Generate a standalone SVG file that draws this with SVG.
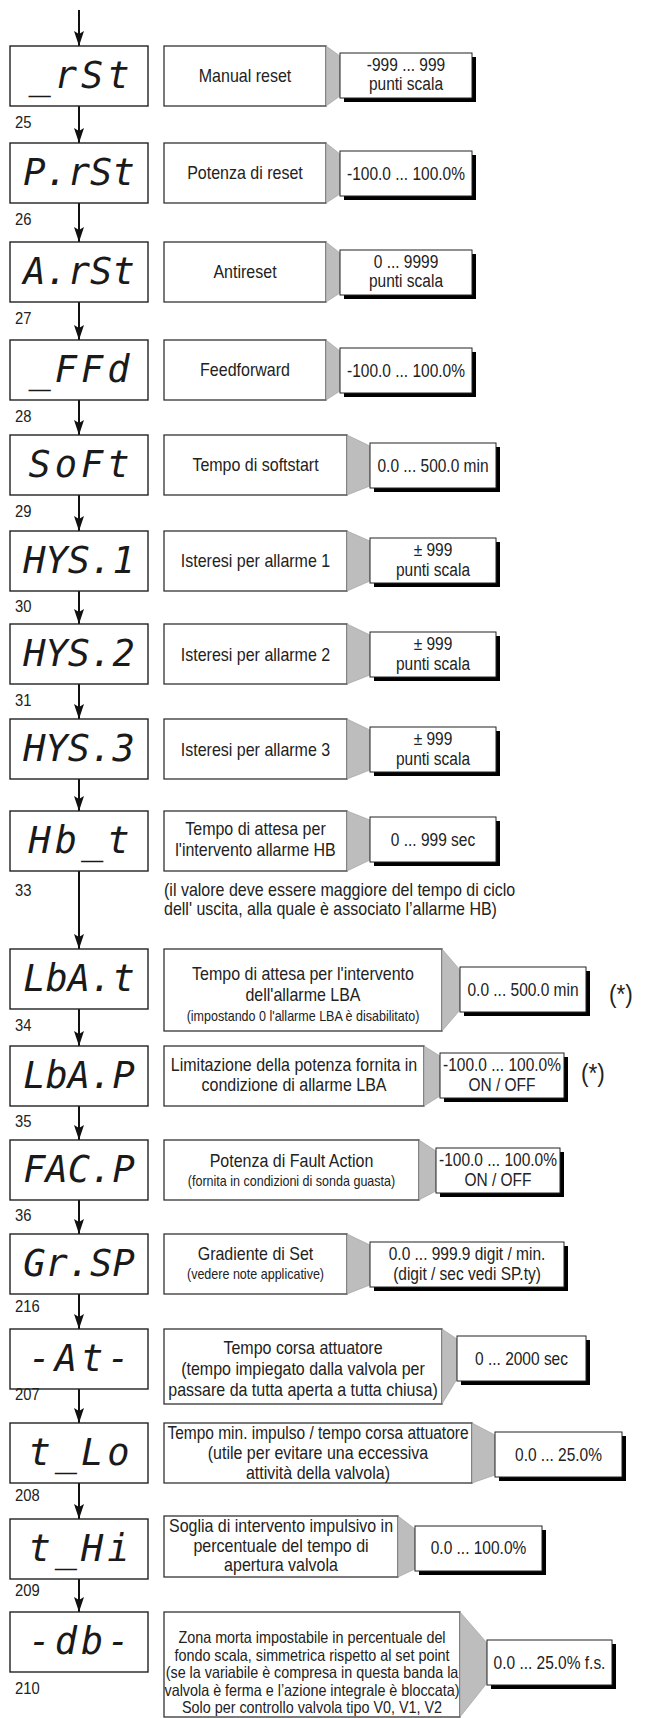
<svg xmlns="http://www.w3.org/2000/svg" width="646" height="1718" viewBox="0 0 646 1718">
<style>
.bg{fill:#fff}
.disp{fill:#fff;stroke:#222;stroke-width:1.4}
.desc{fill:#fff;stroke:#333;stroke-width:1.3}
.val{fill:#fff;stroke:#222;stroke-width:1}
.sh{fill:#000}
.wedge{fill:#bdbdbd;stroke:#9a9a9a;stroke-width:0.6}
.seg{font-family:"DejaVu Sans Mono",monospace;font-size:37px;font-style:oblique;letter-spacing:4px;text-anchor:middle;fill:#1a1a1a}
.seg5{letter-spacing:0px}
.t{font-family:"Liberation Sans",Arial,sans-serif;font-size:18.4px;fill:#222}
.v{font-size:17.8px}
.c{text-anchor:middle}
.s{font-size:14.4px}
.d{font-size:16.5px}
.lbl{font-family:"Liberation Sans",Arial,sans-serif;font-size:17px;fill:#222}
.ast{font-family:"Liberation Sans",Arial,sans-serif;font-size:26px;fill:#222}
.conn line{stroke:#111;stroke-width:2;marker-end:url(#ah)}
</style>
<defs>
<marker id="ah" markerUnits="userSpaceOnUse" viewBox="0 -6 16 12" markerWidth="16" markerHeight="12" refX="15" refY="0" orient="auto">
<path d="M0,-5 L15,0 L0,5 L3,0 z" fill="#111"/>
</marker>
</defs>
<rect class="bg" x="0" y="0" width="646" height="1718"/>

<g id="connectors" class="conn">
<line x1="79" y1="10" x2="79" y2="46"/>
<line x1="79" y1="106" x2="79" y2="143"/>
<line x1="79" y1="203" x2="79" y2="242"/>
<line x1="79" y1="302" x2="79" y2="340"/>
<line x1="79" y1="400" x2="79" y2="435"/>
<line x1="79" y1="495" x2="79" y2="531"/>
<line x1="79" y1="591" x2="79" y2="624"/>
<line x1="79" y1="684" x2="79" y2="719"/>
<line x1="79" y1="779" x2="79" y2="811"/>
<line x1="79" y1="871" x2="79" y2="949"/>
<line x1="79" y1="1009" x2="79" y2="1046"/>
<line x1="79" y1="1106" x2="79" y2="1140"/>
<line x1="79" y1="1200" x2="79" y2="1234"/>
<line x1="79" y1="1294" x2="79" y2="1329"/>
<line x1="79" y1="1389" x2="79" y2="1423"/>
<line x1="79" y1="1483" x2="79" y2="1519"/>
<line x1="79" y1="1579" x2="79" y2="1612"/>
</g>

<g id="n-rst">
<rect class="disp" x="10" y="46" width="138" height="60"/>
<text class="seg" x="81" y="88">_rSt</text>
<text class="lbl" transform="translate(15,0) scale(0.87,1)" x="0" y="128">25</text>
<rect class="desc" x="164" y="46" width="162" height="60"/>
<text class="t c" transform="translate(245,0) scale(0.87,1)" x="0" y="82">Manual reset</text>
<polygon class="wedge" points="326,46 340,56 340,96 326,106"/>
<rect class="sh" x="344" y="57" width="132" height="45"/>
<rect class="val" x="340" y="53" width="132" height="45"/>
<text class="t v c" transform="translate(406,0) scale(0.87,1)" x="0" y="71">-999 ... 999</text>
<text class="t v c" transform="translate(406,0) scale(0.87,1)" x="0" y="90">punti scala</text>
</g>

<g id="n-prst">
<rect class="disp" x="10" y="143" width="138" height="60"/>
<text class="seg seg5" x="79" y="185">P.rSt</text>
<text class="lbl" transform="translate(15,0) scale(0.87,1)" x="0" y="225">26</text>
<rect class="desc" x="164" y="143" width="162" height="60"/>
<text class="t c" transform="translate(245,0) scale(0.87,1)" x="0" y="179">Potenza di reset</text>
<polygon class="wedge" points="326,143 340,154 340,194 326,203"/>
<rect class="sh" x="344" y="155" width="132" height="45"/>
<rect class="val" x="340" y="151" width="132" height="45"/>
<text class="t v c" transform="translate(406,0) scale(0.87,1)" x="0" y="180">-100.0 ... 100.0%</text>
</g>

<g id="n-arst">
<rect class="disp" x="10" y="242" width="138" height="60"/>
<text class="seg seg5" x="79" y="284">A.rSt</text>
<text class="lbl" transform="translate(15,0) scale(0.87,1)" x="0" y="324">27</text>
<rect class="desc" x="164" y="242" width="162" height="60"/>
<text class="t c" transform="translate(245,0) scale(0.87,1)" x="0" y="278">Antireset</text>
<polygon class="wedge" points="326,242 340,253 340,293 326,302"/>
<rect class="sh" x="344" y="254" width="132" height="45"/>
<rect class="val" x="340" y="250" width="132" height="45"/>
<text class="t v c" transform="translate(406,0) scale(0.87,1)" x="0" y="268">0 ... 9999</text>
<text class="t v c" transform="translate(406,0) scale(0.87,1)" x="0" y="287">punti scala</text>
</g>

<g id="n-ffd">
<rect class="disp" x="10" y="340" width="138" height="60"/>
<text class="seg" x="81" y="382">_FFd</text>
<text class="lbl" transform="translate(15,0) scale(0.87,1)" x="0" y="422">28</text>
<rect class="desc" x="164" y="340" width="162" height="60"/>
<text class="t c" transform="translate(245,0) scale(0.87,1)" x="0" y="376">Feedforward</text>
<polygon class="wedge" points="326,340 340,351 340,391 326,400"/>
<rect class="sh" x="344" y="352" width="132" height="45"/>
<rect class="val" x="340" y="348" width="132" height="45"/>
<text class="t v c" transform="translate(406,0) scale(0.87,1)" x="0" y="377">-100.0 ... 100.0%</text>
</g>

<g id="n-soft">
<rect class="disp" x="10" y="435" width="138" height="60"/>
<text class="seg" x="81" y="477">SoFt</text>
<text class="lbl" transform="translate(15,0) scale(0.87,1)" x="0" y="517">29</text>
<rect class="desc" x="164" y="435" width="183" height="60"/>
<text class="t c" transform="translate(255.5,0) scale(0.87,1)" x="0" y="471">Tempo di softstart</text>
<polygon class="wedge" points="347,435 370,446 370,486 347,495"/>
<rect class="sh" x="374" y="447" width="126" height="45"/>
<rect class="val" x="370" y="443" width="126" height="45"/>
<text class="t v c" transform="translate(433,0) scale(0.87,1)" x="0" y="472">0.0 ... 500.0 min</text>
</g>

<g id="n-hys1">
<rect class="disp" x="10" y="531" width="138" height="60"/>
<text class="seg seg5" x="79" y="573">HYS.1</text>
<text class="lbl" transform="translate(15,0) scale(0.87,1)" x="0" y="612">30</text>
<rect class="desc" x="164" y="531" width="183" height="60"/>
<text class="t c" transform="translate(255.5,0) scale(0.87,1)" x="0" y="567">Isteresi per allarme 1</text>
<polygon class="wedge" points="347,531 370,541 370,581 347,591"/>
<rect class="sh" x="374" y="542" width="126" height="45"/>
<rect class="val" x="370" y="538" width="126" height="45"/>
<text class="t v c" transform="translate(433,0) scale(0.87,1)" x="0" y="556">± 999</text>
<text class="t v c" transform="translate(433,0) scale(0.87,1)" x="0" y="576">punti scala</text>
</g>

<g id="n-hys2">
<rect class="disp" x="10" y="624" width="138" height="60"/>
<text class="seg seg5" x="79" y="666">HYS.2</text>
<text class="lbl" transform="translate(15,0) scale(0.87,1)" x="0" y="706">31</text>
<rect class="desc" x="164" y="624" width="183" height="60"/>
<text class="t c" transform="translate(255.5,0) scale(0.87,1)" x="0" y="661">Isteresi per allarme 2</text>
<polygon class="wedge" points="347,624 370,635 370,675 347,684"/>
<rect class="sh" x="374" y="636" width="126" height="45"/>
<rect class="val" x="370" y="632" width="126" height="45"/>
<text class="t v c" transform="translate(433,0) scale(0.87,1)" x="0" y="650">± 999</text>
<text class="t v c" transform="translate(433,0) scale(0.87,1)" x="0" y="670">punti scala</text>
</g>

<g id="n-hys3">
<rect class="disp" x="10" y="719" width="138" height="60"/>
<text class="seg seg5" x="79" y="761">HYS.3</text>
<rect class="desc" x="164" y="719" width="183" height="60"/>
<text class="t c" transform="translate(255.5,0) scale(0.87,1)" x="0" y="756">Isteresi per allarme 3</text>
<polygon class="wedge" points="347,719 370,730 370,770 347,779"/>
<rect class="sh" x="374" y="731" width="126" height="45"/>
<rect class="val" x="370" y="727" width="126" height="45"/>
<text class="t v c" transform="translate(433,0) scale(0.87,1)" x="0" y="745">± 999</text>
<text class="t v c" transform="translate(433,0) scale(0.87,1)" x="0" y="765">punti scala</text>
</g>

<g id="n-hbt">
<rect class="disp" x="10" y="811" width="138" height="60"/>
<text class="seg" x="81" y="853">Hb_t</text>
<text class="lbl" transform="translate(15,0) scale(0.87,1)" x="0" y="896">33</text>
<rect class="desc" x="164" y="811" width="183" height="60"/>
<text class="t c" transform="translate(255.5,0) scale(0.87,1)" x="0" y="835">Tempo di attesa per</text>
<text class="t c" transform="translate(255.5,0) scale(0.87,1)" x="0" y="856">l'intervento allarme HB</text>
<polygon class="wedge" points="347,811 370,820 370,860 347,871"/>
<rect class="sh" x="374" y="821" width="126" height="45"/>
<rect class="val" x="370" y="817" width="126" height="45"/>
<text class="t v c" transform="translate(433,0) scale(0.87,1)" x="0" y="846">0 ... 999 sec</text>
<text class="t" transform="translate(164,0) scale(0.87,1)" x="0" y="896">(il valore deve essere maggiore del tempo di ciclo</text>
<text class="t" transform="translate(164,0) scale(0.87,1)" x="0" y="915">dell' uscita, alla quale è associato l’allarme HB)</text>
</g>

<g id="n-lbat">
<rect class="disp" x="10" y="949" width="138" height="60"/>
<text class="seg seg5" x="79" y="991">LbA.t</text>
<text class="lbl" transform="translate(15,0) scale(0.87,1)" x="0" y="1031">34</text>
<rect class="desc" x="164" y="949" width="278" height="82"/>
<text class="t c" transform="translate(303,0) scale(0.87,1)" x="0" y="980">Tempo di attesa per l'intervento</text>
<text class="t c" transform="translate(303,0) scale(0.87,1)" x="0" y="1001">dell'allarme LBA</text>
<text class="t c s" transform="translate(303,0) scale(0.87,1)" x="0" y="1021">(impostando 0 l'allarme LBA è disabilitato)</text>
<polygon class="wedge" points="442,949 460,970 460,1010 442,1031"/>
<rect class="sh" x="464" y="971" width="126" height="45"/>
<rect class="val" x="460" y="967" width="126" height="45"/>
<text class="t v c" transform="translate(523,0) scale(0.87,1)" x="0" y="996">0.0 ... 500.0 min</text>
<text class="ast" transform="translate(609,0) scale(0.87,1)" x="0" y="1003">(*)</text>
</g>

<g id="n-lbap">
<rect class="disp" x="10" y="1046" width="138" height="60"/>
<text class="seg seg5" x="79" y="1088">LbA.P</text>
<text class="lbl" transform="translate(15,0) scale(0.87,1)" x="0" y="1127">35</text>
<rect class="desc" x="164" y="1046" width="260" height="60"/>
<text class="t c" transform="translate(294,0) scale(0.87,1)" x="0" y="1071">Limitazione della potenza fornita in</text>
<text class="t c" transform="translate(294,0) scale(0.87,1)" x="0" y="1091">condizione di allarme LBA</text>
<polygon class="wedge" points="424,1046 440,1056 440,1096 424,1106"/>
<rect class="sh" x="444" y="1057" width="124" height="45"/>
<rect class="val" x="440" y="1053" width="124" height="45"/>
<text class="t v c" transform="translate(502,0) scale(0.87,1)" x="0" y="1071">-100.0 ... 100.0%</text>
<text class="t v c" transform="translate(502,0) scale(0.87,1)" x="0" y="1091">ON / OFF</text>
<text class="ast" transform="translate(581,0) scale(0.87,1)" x="0" y="1082">(*)</text>
</g>

<g id="n-facp">
<rect class="disp" x="10" y="1140" width="138" height="60"/>
<text class="seg seg5" x="79" y="1182">FAC.P</text>
<text class="lbl" transform="translate(15,0) scale(0.87,1)" x="0" y="1221">36</text>
<rect class="desc" x="164" y="1140" width="255" height="60"/>
<text class="t c" transform="translate(291.5,0) scale(0.87,1)" x="0" y="1167">Potenza di Fault Action</text>
<text class="t c s" transform="translate(291.5,0) scale(0.87,1)" x="0" y="1186">(fornita in condizioni di sonda guasta)</text>
<polygon class="wedge" points="419,1140 436,1151 436,1191 419,1200"/>
<rect class="sh" x="440" y="1152" width="124" height="45"/>
<rect class="val" x="436" y="1148" width="124" height="45"/>
<text class="t v c" transform="translate(498,0) scale(0.87,1)" x="0" y="1166">-100.0 ... 100.0%</text>
<text class="t v c" transform="translate(498,0) scale(0.87,1)" x="0" y="1186">ON / OFF</text>
</g>

<g id="n-grsp">
<rect class="disp" x="10" y="1234" width="138" height="60"/>
<text class="seg seg5" x="79" y="1276">Gr.SP</text>
<text class="lbl" transform="translate(15,0) scale(0.87,1)" x="0" y="1312">216</text>
<rect class="desc" x="164" y="1234" width="183" height="60"/>
<text class="t c" transform="translate(255.5,0) scale(0.87,1)" x="0" y="1260">Gradiente di Set</text>
<text class="t c s" transform="translate(255.5,0) scale(0.87,1)" x="0" y="1279">(vedere note applicative)</text>
<polygon class="wedge" points="347,1234 370,1245 370,1285 347,1294"/>
<rect class="sh" x="374" y="1246" width="194" height="45"/>
<rect class="val" x="370" y="1242" width="194" height="45"/>
<text class="t v c" transform="translate(467,0) scale(0.87,1)" x="0" y="1260">0.0 ... 999.9 digit / min.</text>
<text class="t v c" transform="translate(467,0) scale(0.87,1)" x="0" y="1280">(digit / sec vedi SP.ty)</text>
</g>

<g id="n-at">
<rect class="disp" x="10" y="1329" width="138" height="60"/>
<text class="seg" x="81" y="1371">-At-</text>
<text class="lbl" transform="translate(15,0) scale(0.87,1)" x="0" y="1400">207</text>
<rect class="desc" x="164" y="1329" width="278" height="75"/>
<text class="t c" transform="translate(303,0) scale(0.87,1)" x="0" y="1354">Tempo corsa attuatore</text>
<text class="t c" transform="translate(303,0) scale(0.87,1)" x="0" y="1375">(tempo impiegato dalla valvola per</text>
<text class="t c" transform="translate(303,0) scale(0.87,1)" x="0" y="1396">passare da tutta aperta a tutta chiusa)</text>
<polygon class="wedge" points="442,1329 457,1339 457,1379 442,1404"/>
<rect class="sh" x="461" y="1340" width="129" height="45"/>
<rect class="val" x="457" y="1336" width="129" height="45"/>
<text class="t v c" transform="translate(521.5,0) scale(0.87,1)" x="0" y="1365">0 ... 2000 sec</text>
</g>

<g id="n-tlo">
<rect class="disp" x="10" y="1423" width="138" height="60"/>
<text class="seg" x="81" y="1465">t_Lo</text>
<text class="lbl" transform="translate(15,0) scale(0.87,1)" x="0" y="1501">208</text>
<rect class="desc" x="164" y="1423" width="308" height="60"/>
<text class="t v c" transform="translate(318,0) scale(0.87,1)" x="0" y="1439">Tempo min. impulso / tempo corsa attuatore</text>
<text class="t c" transform="translate(318,0) scale(0.87,1)" x="0" y="1459">(utile per evitare una eccessiva</text>
<text class="t c" transform="translate(318,0) scale(0.87,1)" x="0" y="1479">attività della valvola)</text>
<polygon class="wedge" points="472,1423 495,1435 495,1475 472,1483"/>
<rect class="sh" x="499" y="1436" width="127" height="45"/>
<rect class="val" x="495" y="1432" width="127" height="45"/>
<text class="t v c" transform="translate(558.5,0) scale(0.87,1)" x="0" y="1461">0.0 ... 25.0%</text>
</g>

<g id="n-thi">
<rect class="disp" x="10" y="1519" width="138" height="60"/>
<text class="seg" x="81" y="1561">t_Hi</text>
<text class="lbl" transform="translate(15,0) scale(0.87,1)" x="0" y="1596">209</text>
<rect class="desc" x="164" y="1516" width="234" height="61"/>
<text class="t c" transform="translate(281,0) scale(0.87,1)" x="0" y="1532">Soglia di intervento impulsivo in</text>
<text class="t c" transform="translate(281,0) scale(0.87,1)" x="0" y="1552">percentuale del tempo di</text>
<text class="t c" transform="translate(281,0) scale(0.87,1)" x="0" y="1571">apertura valvola</text>
<polygon class="wedge" points="398,1516 415,1529 415,1569 398,1577"/>
<rect class="sh" x="419" y="1530" width="127" height="45"/>
<rect class="val" x="415" y="1526" width="127" height="45"/>
<text class="t v c" transform="translate(478.5,0) scale(0.87,1)" x="0" y="1554">0.0 ... 100.0%</text>
</g>

<g id="n-db">
<rect class="disp" x="10" y="1612" width="138" height="60"/>
<text class="seg" x="81" y="1654">-db-</text>
<text class="lbl" transform="translate(15,0) scale(0.87,1)" x="0" y="1694">210</text>
<rect class="desc" x="164" y="1612" width="296" height="105"/>
<text class="t d c" transform="translate(312,0) scale(0.87,1)" x="0" y="1643">Zona morta impostabile in percentuale del</text>
<text class="t d c" transform="translate(312,0) scale(0.87,1)" x="0" y="1661">fondo scala, simmetrica rispetto al set point</text>
<text class="t d c" transform="translate(312,0) scale(0.87,1)" x="0" y="1678">(se la variabile è compresa in questa banda la</text>
<text class="t d c" transform="translate(312,0) scale(0.87,1)" x="0" y="1696">valvola è ferma e l’azione integrale è bloccata)</text>
<text class="t d c" transform="translate(312,0) scale(0.87,1)" x="0" y="1713">Solo per controllo valvola tipo V0, V1, V2</text>
<polygon class="wedge" points="460,1612 487,1643 487,1683 460,1717"/>
<rect class="sh" x="491" y="1644" width="125" height="45"/>
<rect class="val" x="487" y="1640" width="125" height="45"/>
<text class="t v c" transform="translate(549.5,0) scale(0.87,1)" x="0" y="1669">0.0 ... 25.0% f.s.</text>
</g>
</svg>
